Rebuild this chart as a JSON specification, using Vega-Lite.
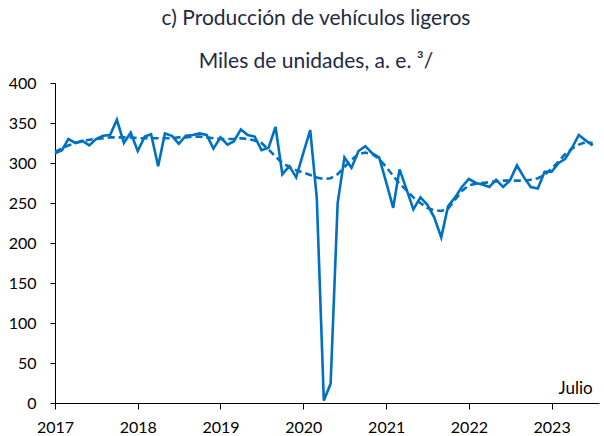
{
  "$schema": "https://vega.github.io/schema/vega-lite/v6.json",
  "autosize": "none",
  "width": 544,
  "height": 320,
  "padding": {"left": 55, "top": 83, "right": 5, "bottom": 33},
  "background": "white",
  "title": {
    "text": ["c) Producción de vehículos ligeros", "Miles de unidades, a. e. ³/"],
    "font": "Lato",
    "fontSize": 21,
    "fontWeight": "normal",
    "color": "#1F2A44",
    "lineHeight": 43,
    "anchor": "middle",
    "dx": -11,
    "offset": 3
  },
  "data": {
    "values": [
      {"date": "2017-01-01", "ae": 312, "tend": 314},
      {"date": "2017-02-01", "ae": 316, "tend": 318},
      {"date": "2017-03-01", "ae": 330, "tend": 322},
      {"date": "2017-04-01", "ae": 325, "tend": 325},
      {"date": "2017-05-01", "ae": 328, "tend": 327},
      {"date": "2017-06-01", "ae": 322, "tend": 329},
      {"date": "2017-07-01", "ae": 330, "tend": 330},
      {"date": "2017-08-01", "ae": 334, "tend": 331},
      {"date": "2017-09-01", "ae": 335, "tend": 332},
      {"date": "2017-10-01", "ae": 354, "tend": 332},
      {"date": "2017-11-01", "ae": 325, "tend": 332},
      {"date": "2017-12-01", "ae": 338, "tend": 332},
      {"date": "2018-01-01", "ae": 315, "tend": 331},
      {"date": "2018-02-01", "ae": 333, "tend": 331},
      {"date": "2018-03-01", "ae": 336, "tend": 331},
      {"date": "2018-04-01", "ae": 296, "tend": 331},
      {"date": "2018-05-01", "ae": 337, "tend": 331},
      {"date": "2018-06-01", "ae": 334, "tend": 331},
      {"date": "2018-07-01", "ae": 324, "tend": 332},
      {"date": "2018-08-01", "ae": 334, "tend": 332},
      {"date": "2018-09-01", "ae": 335, "tend": 333},
      {"date": "2018-10-01", "ae": 337, "tend": 333},
      {"date": "2018-11-01", "ae": 335, "tend": 332},
      {"date": "2018-12-01", "ae": 318, "tend": 331},
      {"date": "2019-01-01", "ae": 332, "tend": 330},
      {"date": "2019-02-01", "ae": 323, "tend": 330},
      {"date": "2019-03-01", "ae": 327, "tend": 330},
      {"date": "2019-04-01", "ae": 342, "tend": 331},
      {"date": "2019-05-01", "ae": 335, "tend": 330},
      {"date": "2019-06-01", "ae": 333, "tend": 328},
      {"date": "2019-07-01", "ae": 316, "tend": 325},
      {"date": "2019-08-01", "ae": 319, "tend": 317},
      {"date": "2019-09-01", "ae": 345, "tend": 308},
      {"date": "2019-10-01", "ae": 286, "tend": 300},
      {"date": "2019-11-01", "ae": 296, "tend": 295},
      {"date": "2019-12-01", "ae": 282, "tend": 291},
      {"date": "2020-01-01", "ae": 312, "tend": 288},
      {"date": "2020-02-01", "ae": 341, "tend": 285},
      {"date": "2020-03-01", "ae": 256, "tend": 282},
      {"date": "2020-04-01", "ae": 3, "tend": 280},
      {"date": "2020-05-01", "ae": 24, "tend": 281},
      {"date": "2020-06-01", "ae": 250, "tend": 286},
      {"date": "2020-07-01", "ae": 307, "tend": 295},
      {"date": "2020-08-01", "ae": 294, "tend": 304},
      {"date": "2020-09-01", "ae": 315, "tend": 311},
      {"date": "2020-10-01", "ae": 321, "tend": 313},
      {"date": "2020-11-01", "ae": 312, "tend": 311},
      {"date": "2020-12-01", "ae": 307, "tend": 305},
      {"date": "2021-01-01", "ae": 276, "tend": 295},
      {"date": "2021-02-01", "ae": 244, "tend": 284},
      {"date": "2021-03-01", "ae": 292, "tend": 274},
      {"date": "2021-04-01", "ae": 267, "tend": 266},
      {"date": "2021-05-01", "ae": 242, "tend": 257},
      {"date": "2021-06-01", "ae": 257, "tend": 250},
      {"date": "2021-07-01", "ae": 248, "tend": 244},
      {"date": "2021-08-01", "ae": 232, "tend": 241},
      {"date": "2021-09-01", "ae": 207, "tend": 240},
      {"date": "2021-10-01", "ae": 246, "tend": 243},
      {"date": "2021-11-01", "ae": 257, "tend": 254},
      {"date": "2021-12-01", "ae": 270, "tend": 265},
      {"date": "2022-01-01", "ae": 280, "tend": 272},
      {"date": "2022-02-01", "ae": 275, "tend": 274},
      {"date": "2022-03-01", "ae": 273, "tend": 275},
      {"date": "2022-04-01", "ae": 270, "tend": 276},
      {"date": "2022-05-01", "ae": 279, "tend": 277},
      {"date": "2022-06-01", "ae": 270, "tend": 278},
      {"date": "2022-07-01", "ae": 278, "tend": 278},
      {"date": "2022-08-01", "ae": 297, "tend": 278},
      {"date": "2022-09-01", "ae": 282, "tend": 278},
      {"date": "2022-10-01", "ae": 270, "tend": 279},
      {"date": "2022-11-01", "ae": 268, "tend": 281},
      {"date": "2022-12-01", "ae": 289, "tend": 285},
      {"date": "2023-01-01", "ae": 289, "tend": 293},
      {"date": "2023-02-01", "ae": 300, "tend": 302},
      {"date": "2023-03-01", "ae": 305, "tend": 311},
      {"date": "2023-04-01", "ae": 319, "tend": 318},
      {"date": "2023-05-01", "ae": 335, "tend": 323},
      {"date": "2023-06-01", "ae": 328, "tend": 326},
      {"date": "2023-07-01", "ae": 322, "tend": 325}
    ]
  },
  "config": {
    "view": {"stroke": null},
    "axis": {
      "labelFont": "Lato",
      "labelFontSize": 16,
      "labelColor": "#000000",
      "domainColor": "#000000",
      "tickColor": "#000000",
      "domainWidth": 1,
      "tickWidth": 1,
      "grid": false,
      "title": null,
      "labelOverlap": false
    }
  },
  "layer": [
    {
      "mark": {"type": "line", "color": "#0070C0", "strokeWidth": 2.6, "clip": false},
      "encoding": {
        "x": {
          "field": "date",
          "type": "temporal",
          "scale": {"domain": ["2017-01-01", "2023-07-29"]},
          "axis": {
            "format": "%Y",
            "tickCount": {"interval": "year", "step": 1},
            "tickSize": 6,
            "labelPadding": 10,
            "labelAlign": "center",
            "labelFlush": false,
            "labelOverlap": false
          }
        },
        "y": {
          "field": "ae",
          "type": "quantitative",
          "scale": {"domain": [0, 400], "nice": false, "zero": true},
          "axis": {"values": [0, 50, 100, 150, 200, 250, 300, 350, 400], "tickSize": 5, "labelPadding": 14, "labelOverlap": false}
        }
      }
    },
    {
      "mark": {"type": "line", "color": "#0070C0", "strokeWidth": 2.6, "strokeDash": [7, 4]},
      "encoding": {
        "x": {"field": "date", "type": "temporal"},
        "y": {
          "field": "tend",
          "type": "quantitative",
          "axis": {"values": [0, 50, 100, 150, 200, 250, 300, 350, 400], "tickSize": 5, "labelPadding": 14, "labelOverlap": false}
        }
      }
    },
    {
      "data": {"values": [{"label": "Julio", "date": "2023-07-01", "v": 0}]},
      "mark": {"type": "text", "font": "Lato", "fontSize": 17, "align": "right", "baseline": "bottom", "dy": -5, "color": "#000000"},
      "encoding": {
        "text": {"field": "label"},
        "x": {"field": "date", "type": "temporal"},
        "y": {
          "field": "v",
          "type": "quantitative",
          "axis": {"values": [0, 50, 100, 150, 200, 250, 300, 350, 400], "tickSize": 5, "labelPadding": 14, "labelOverlap": false}
        }
      }
    }
  ]
}
